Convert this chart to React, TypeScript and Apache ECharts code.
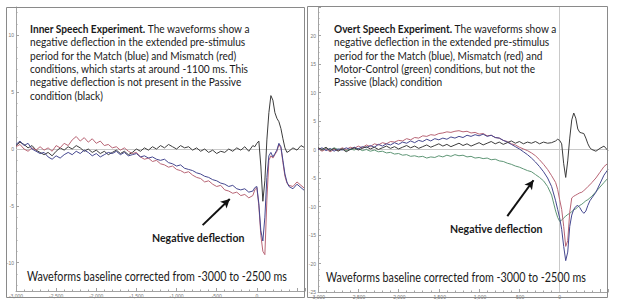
import React, { useEffect, useRef } from "react";
import * as echarts from "echarts";

// ---------- DATA ----------
const timeMs = [
  -3000, -2950, -2900, -2850, -2800, -2750, -2700, -2650, -2600, -2550,
  -2500, -2450, -2400, -2350, -2300, -2250, -2200, -2150, -2100, -2050,
  -2000, -1950, -1900, -1850, -1800, -1750, -1700, -1650, -1600, -1550,
  -1500, -1450, -1400, -1350, -1300, -1250, -1200, -1150, -1100, -1050,
  -1000, -950, -900, -850, -800, -750, -700, -650, -600, -550,
  -500, -450, -400, -350, -300,
  -250, -200, -150, -100, -50,
  -25, 0, 25, 50, 75, 100, 125, 150, 175, 200, 225, 250, 275, 300, 325, 350, 375, 400,
  450, 500, 550, 600,
];

// Inner speech experiment (µV)
const innerPassive = [
  0.3, 0.6, 0.4, 0.1, 0.3, -0.1, -0.3, -0.5, -0.3, -0.6,
  -0.2, 0.1, -0.1, 0.2, 0.0, 0.3, 0.1, -0.2, 0.0, -0.3,
  -0.1, -0.4, -0.2, -0.5, -0.3, -0.1, -0.4, -0.2, -0.5, -0.3,
  0.0, -0.2, 0.1, -0.1, 0.2, 0.0, 0.3, 0.1, 0.4, 0.2,
  0.0, 0.3, 0.1, 0.2, -0.1, 0.1, -0.2, 0.0, -0.3, -0.1,
  -0.4, -0.2, -0.3, 0.0, -0.2,
  0.1, -0.1, 0.2, -0.2, 0.3,
  0.2, 0.5, 0.7, -1.5, -4.6, -2.8, 0.8, 3.2, 4.7, 4.3, 3.2, 2.7, 2.4, 1.8, 0.9, 0.1, -0.3, -0.2,
  0.1, -0.1, 0.3, 0.1,
];
const innerMatch = [
  0.4, 0.7, 0.3, 0.5, 0.0, -0.2, -0.4, -0.3, -0.7, -0.9,
  -0.6, -0.8, -0.5, -0.3, -0.5, -0.2, -0.4, -0.1, -0.3, -0.6,
  -0.4, -0.7, -0.5, -0.3, -0.4, -0.2, -0.5, -0.3, -0.6, -0.5,
  -0.4, -0.7, -0.6, -0.8, -0.7, -0.9, -1.0, -0.9, -1.2, -1.3,
  -1.5, -1.4, -1.7, -1.8, -1.9, -2.1, -2.2, -2.4, -2.5, -2.7,
  -2.8, -3.0, -3.1, -3.3, -3.2,
  -3.5, -3.6, -3.5, -3.8, -3.7,
  -3.4, -3.3, -4.8, -7.2, -8.1, -6.0, -2.5, -0.6, -0.3, -0.7, -0.4, -0.1, 0.5, 0.2, -1.0, -2.2, -2.9, -3.3,
  -3.5, -3.1, -3.4, -3.7,
];
const innerMismatch = [
  0.2, 0.4, 0.0, -0.2, 0.1, -0.1, 0.2, -0.1, 0.1, -0.2,
  0.3, 0.1, 0.5, 0.3, 0.8, 1.1, 0.7, 1.0, 0.6, 0.9,
  0.5, 0.7, 0.3, 0.4, 0.1, 0.2, -0.1, 0.1, -0.2, -0.4,
  -0.3, -0.7, -0.9, -0.8, -1.1, -1.0, -1.3, -1.4, -1.6, -1.5,
  -1.8, -1.9, -2.1, -2.0, -2.3, -2.5, -2.6, -2.9, -2.8, -3.1,
  -3.3, -3.2, -3.6, -3.7, -3.9,
  -3.8, -4.1, -4.0, -4.3, -4.1,
  -3.6, -3.4, -5.0, -7.6, -9.0, -9.3, -4.5, -1.0, -0.6, -0.8, -0.5, -0.2, 0.4, 0.1, -1.2, -2.4, -3.0, -3.2,
  -3.3, -2.9, -3.2, -3.5,
];

// Overt speech experiment (µV)
const overtPassive = [
  0.3, 0.0, 0.4, -0.2, 0.2, -0.3, 0.1, -0.4, 0.0, 0.3,
  -0.1, 0.2, 0.5, 0.1, 0.4, 0.0, 0.3, 0.6, 0.2, 0.5,
  0.1, 0.4, 0.7, 0.3, 0.6, 0.2, 0.5, 0.8, 0.4, 0.7,
  1.0, 0.6, 0.9, 0.5, 0.8, 1.1, 0.7, 1.0, 0.6, 0.9,
  1.2, 0.8, 1.1, 1.4, 1.0, 1.3, 0.9, 1.2, 1.5, 1.1,
  1.4, 1.0, 1.3, 1.1, 1.4,
  1.0, 1.3, 1.1, 1.2, 1.5,
  1.8, 1.6, 1.0, -2.5, -4.9, -2.0, 2.0, 5.2, 6.4, 5.5, 3.6, 3.0, 2.9, 2.8, 2.0, 1.0, 0.3, 0.0,
  -0.3, 0.2, 0.6, -0.2,
];
const overtMatch = [
  0.0, 0.3, -0.2, 0.2, -0.3, 0.1, -0.1, 0.3, 0.0, 0.4,
  0.1, 0.5, 0.3, 0.7, 0.4, 0.9, 0.6, 1.0, 0.8, 1.2,
  0.9, 1.3, 1.1, 1.5, 1.2, 1.6, 1.4, 1.8, 1.5, 1.9,
  1.7, 2.0, 1.8, 2.2, 2.0, 2.3, 2.1, 2.5, 2.3, 2.6,
  2.4, 2.7, 2.3, 2.5, 2.1, 2.0, 1.6, 1.3, 0.9, 0.5,
  0.1, -0.4, -0.9, -1.5, -2.2,
  -3.0, -3.9, -5.0, -6.5, -9.0,
  -10.5, -12.0, -14.0, -17.0, -19.5, -18.0, -13.5, -11.5, -10.5, -10.0, -9.8, -10.2, -10.8, -11.2, -10.8, -9.8, -9.0, -8.5,
  -7.5, -6.0, -4.5, -3.5,
];
const overtMismatch = [
  0.2, -0.3, 0.1, -0.4, 0.0, -0.2, 0.3, 0.0, 0.4, 0.2,
  0.6, 0.3, 0.8, 0.5, 1.0, 0.8, 1.2, 1.0, 1.4, 1.3,
  1.6, 1.5, 1.9, 1.7, 2.1, 2.0, 2.4, 2.3, 2.6, 2.5,
  2.8, 2.9, 3.1, 3.0, 3.2, 3.3, 3.1, 3.2, 2.9, 3.0,
  2.7, 2.8, 2.4, 2.5, 2.1, 2.0, 1.6, 1.4, 1.0, 0.8,
  0.4, 0.1, -0.2, -0.6, -1.1,
  -1.8, -2.6, -3.5, -4.6, -5.8,
  -7.0, -8.8, -10.5, -13.5, -17.0, -16.0, -11.0, -8.5, -8.2, -8.0, -7.8, -7.6, -7.5, -7.2, -6.9, -6.5, -6.2, -5.8,
  -5.0, -4.0, -3.0, -2.4,
];
const overtMotor = [
  0.1, -0.2, 0.2, -0.1, 0.3, 0.0, 0.2, -0.2, 0.1, -0.1,
  0.2, -0.2, 0.0, -0.3, -0.1, -0.4, -0.3, -0.6, -0.5, -0.8,
  -0.7, -1.0, -0.9, -1.2, -1.1, -1.3, -1.2, -1.5, -1.3, -1.4,
  -1.1, -1.3, -1.0, -1.2, -0.9, -1.1, -1.0, -1.3, -1.2, -1.5,
  -1.4, -1.6, -1.5, -1.8, -1.7, -2.0, -2.1, -2.4, -2.6, -2.9,
  -3.1, -3.4, -3.7, -3.9, -4.4,
  -4.9, -5.5, -6.5, -8.0, -10.8,
  -11.9, -12.6, -12.4, -12.0, -11.7, -11.4, -11.2, -10.9, -10.6, -10.4, -10.1, -9.8, -9.6, -9.3, -9.0, -8.8, -8.5, -8.2,
  -7.4, -6.6, -5.8, -5.0,
];

// tick labels
const xLabelValues = [-3000, -2500, -2000, -1500, -1000, -500, 0];
const innerYLabels = [-10, -5, 0, 5, 10];
const innerYMinor = [-12, -11, -9, -8, -7, -6, -4, -3, -2, -1, 1, 2, 3, 4, 6, 7, 8, 9, 11, 12];

// annotation arrows (data coordinates: [ms, µV])
const innerArrow = [[-675, -6.7], [-337, -4.4]];
const overtArrow = [[-650, -11.7], [-325, -5.4]];

const innerText = [
  "{b|Inner Speech Experiment.} The waveforms show a",
  "negative deflection in the extended pre-stimulus",
  "period for the Match (blue) and Mismatch (red)",
  "conditions, which starts at around -1100 ms. This",
  "negative deflection is not present in the Passive",
  "condition (black)",
];
const overtText = [
  "{b|Overt Speech Experiment.} The waveforms show a",
  "negative deflection in the extended pre-stimulus",
  "period for the Match (blue), Mismatch (red) and",
  "Motor-Control (green) conditions, but not the",
  "Passive (black) condition",
];
const deflectionLabel = "Negative deflection";
const baselineLabel = "Waveforms baseline corrected from -3000 to -2500 ms";

// ---------- STYLE ----------
const C_BLACK = "#3c3c3c";
const C_BLUE = "#45478f";
const C_RED = "#b86575";
const C_GREEN = "#5f9676";
const FONT = "Lato, 'Liberation Sans', sans-serif";

const pairs = (v: number[]) => timeMs.map((t, i) => [t, v[i]]);

export default function App() {
  const ref = useRef<HTMLDivElement>(null);

  useEffect(() => {
    document.body.style.margin = "0";
    if (!ref.current) return;
    const chart = echarts.init(ref.current, undefined, { renderer: "svg" });

    const axisGray = "#a2a2a2";
    const labelStyle = { fontSize: 5, color: "#777", fontFamily: "Arial, sans-serif" };

    const xAxisCfg = (gridIndex: number) => ({
      type: "value",
      gridIndex,
      min: -3000,
      max: 600,
      interval: 500,
      axisLine: { show: true, onZero: false, lineStyle: { color: axisGray, width: 1 } },
      axisTick: { show: true, inside: true, length: 3, lineStyle: { color: axisGray } },
      minorTick: { show: true, splitNumber: 5, length: 1.5, lineStyle: { color: axisGray } },
      axisLabel: {
        ...labelStyle,
        margin: 2,
        customValues: xLabelValues,
      },
      splitLine: { show: false },
    });

    const line = (name: string, x: number, y: number, data: number[], color: string, extra: any = {}) => ({
      type: "line",
      name,
      xAxisIndex: x,
      yAxisIndex: y,
      data: pairs(data),
      showSymbol: false,
      symbol: "none",
      lineStyle: { color, width: 1 },
      z: 3,
      ...extra,
    });

    const zeroLineStyle = { color: "#c9c9c9", width: 1, type: "solid" };
    const arrowStyle = { color: "#111", width: 2, type: "solid" };

    const arrowItem = (a: number[][]) => [
      { coord: a[0], symbol: "none", lineStyle: arrowStyle },
      { coord: a[1], symbol: "arrow", symbolSize: [7, 9], lineStyle: arrowStyle },
    ];

    const textLines = (lines: string[], x: number, y0: number) =>
      lines.map((t, i) => ({
        type: "text",
        x,
        y: y0 + i * 13.4,
        scaleX: 0.845,
        z: 10,
        style: {
          text: t,
          fontSize: 12,
          fontFamily: FONT,
          fill: "#1a1a1a",
          verticalAlign: "middle",
          align: "left",
          rich: {
            b: { fontSize: 12, fontFamily: FONT, fontWeight: "bold", fill: "#1a1a1a" },
          },
        },
      }));

    const plain = (t: string, x: number, y: number, size: number, sx: number, bold = false) => ({
      type: "text",
      x,
      y,
      scaleX: sx,
      z: 10,
      style: {
        text: t,
        fontSize: size,
        fontFamily: FONT,
        fontWeight: bold ? "bold" : "normal",
        fill: "#1a1a1a",
        verticalAlign: "middle",
        align: "left",
      },
    });

    chart.setOption({
      animation: false,
      backgroundColor: "#ffffff",
      grid: [
        { left: 16, top: 7, width: 289, height: 284, show: false },
        { left: 318, top: 7, width: 290, height: 285, show: false },
      ],
      xAxis: [xAxisCfg(0), xAxisCfg(1)],
      yAxis: [
        {
          type: "value",
          gridIndex: 0,
          min: -12.5,
          max: 12.5,
          axisLine: { show: true, onZero: false, lineStyle: { color: axisGray, width: 1 } },
          axisTick: { show: true, inside: true, length: 3, customValues: innerYLabels, lineStyle: { color: axisGray } },
          axisLabel: { ...labelStyle, margin: 2, customValues: innerYLabels },
          splitLine: { show: false },
        },
        {
          type: "value",
          gridIndex: 0,
          position: "left",
          offset: 0,
          min: -12.5,
          max: 12.5,
          axisLine: { show: false, onZero: false },
          axisTick: { show: true, inside: true, length: 1.5, customValues: innerYMinor, lineStyle: { color: axisGray } },
          axisLabel: { show: false },
          splitLine: { show: false },
        },
        {
          type: "value",
          gridIndex: 1,
          min: -25,
          max: 25,
          interval: 5,
          axisLine: { show: true, onZero: false, lineStyle: { color: axisGray, width: 1 } },
          axisTick: { show: true, inside: true, length: 3, lineStyle: { color: axisGray } },
          minorTick: { show: true, splitNumber: 5, length: 1.5, lineStyle: { color: axisGray } },
          axisLabel: { ...labelStyle, margin: 2, formatter: (v: number) => (v >= 25 ? "" : String(v)) },
          splitLine: { show: false },
        },
      ],
      series: [
        line("Passive", 0, 0, innerPassive, C_BLACK, {
          markLine: {
            silent: true,
            symbol: "none",
            label: { show: false },
            z: 2,
            data: [{ yAxis: 0, lineStyle: zeroLineStyle }, arrowItem(innerArrow)],
          },
        }),
        line("Mismatch", 0, 0, innerMismatch, C_RED),
        line("Match", 0, 0, innerMatch, C_BLUE),
        line("Motor-Control", 1, 2, overtMotor, C_GREEN, {
          markLine: {
            silent: true,
            symbol: "none",
            label: { show: false },
            z: 2,
            data: [
              { yAxis: 0, lineStyle: zeroLineStyle },
              { xAxis: 0, lineStyle: zeroLineStyle },
              arrowItem(overtArrow),
            ],
          },
        }),
        line("Mismatch", 1, 2, overtMismatch, C_RED),
        line("Match", 1, 2, overtMatch, C_BLUE),
        line("Passive", 1, 2, overtPassive, C_BLACK),
      ],
      graphic: [
        {
          type: "rect",
          shape: { x: 6.5, y: 7.5, width: 298, height: 290 },
          style: { fill: "none", stroke: "#8a8a8a", lineWidth: 1 },
          z: 20,
          silent: true,
        },
        {
          type: "rect",
          shape: { x: 307.5, y: 6.5, width: 300, height: 291 },
          style: { fill: "none", stroke: "#8a8a8a", lineWidth: 1 },
          z: 20,
          silent: true,
        },
        ...textLines(innerText, 30, 28),
        ...textLines(overtText, 334, 28),
        plain(deflectionLabel, 152, 237, 12, 0.88, true),
        plain(deflectionLabel, 450, 228, 12, 0.88, true),
        plain(baselineLabel, 27, 276, 12.5, 0.86),
        plain(baselineLabel, 326, 277, 12.5, 0.86),
      ],
    });

    return () => chart.dispose();
  }, []);

  return <div ref={ref} style={{ width: 617, height: 305 }} />;
}
